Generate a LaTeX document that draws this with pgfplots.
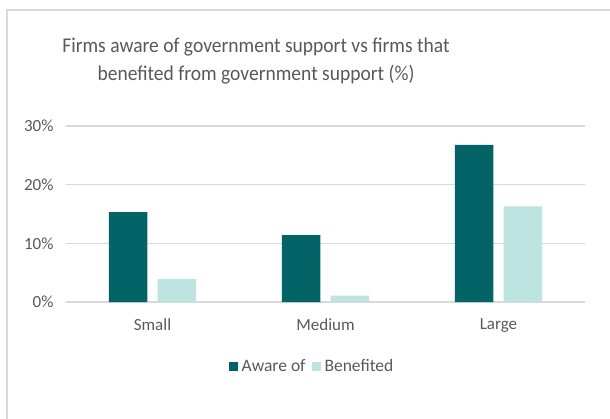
\documentclass[border=0pt]{standalone}
\usepackage{pgfplots}
\pgfplotsset{compat=1.18}
\usepackage{fontspec}
\setmainfont{Carlito}
\newfontfamily\titlefont[FakeStretch=0.93]{Carlito}
\definecolor{aware}{HTML}{046366}
\definecolor{bene}{HTML}{BDE4E0}
\definecolor{gridc}{HTML}{D9D9D9}
\definecolor{txt}{HTML}{595959}
\begin{document}
\begin{tikzpicture}
\useasboundingbox (0,0) rectangle (610pt,-419pt);
\draw[line width=2pt, gridc] (7pt,-419pt) |- (610pt,-10pt);
\node[align=center, text=txt, font=\titlefont\fontsize{21}{28}\selectfont, anchor=base] at (256pt,-81pt)
  {Firms aware of government support vs firms that\\benefited from government support (\%)};
\begin{axis}[
  at={(66pt,-302pt)}, anchor=south west,
  scale only axis, width=519pt, height=176pt,
  xmin=-0.5, xmax=2.5, ymin=0, ymax=30,
  ybar, bar width=38.5pt,
  xtick={0,1,2}, xticklabels={Small,Medium,Large},
  ytick={0,10,20,30},
  yticklabel={\pgfmathprintnumber{\tick}\%},
  /pgf/number format/assume math mode=true,
  axis line style={draw=none},
  major tick style={draw=none},
  ymajorgrids, grid style={gridc, line width=1.2pt},
  ticklabel style={text=txt, font=\fontsize{17}{20}\selectfont},
  yticklabel style={xshift=-9pt},
  xticklabel style={yshift=-9pt},
  legend style={at={(0.474,-0.364)}, anchor=center, draw=none, fill=none,
    font=\fontsize{17.5}{20}\selectfont, text=txt, legend columns=2,
    /tikz/every even column/.append style={column sep=4pt},
    /tikz/every odd column/.append style={column sep=2pt}},
  legend image code/.code={\fill[#1] (0pt,-4.5pt) rectangle (9pt,4.5pt);},
]
\addplot[fill=aware, draw=none, bar shift=-24.4pt] coordinates {(0,15.3) (1,11.4) (2,26.8)};
\addplot[fill=bene, draw=none, bar shift=24.4pt] coordinates {(0,3.9) (1,1.1) (2,16.3)};
\legend{Aware of, Benefited}
\end{axis}
\end{tikzpicture}
\end{document}
